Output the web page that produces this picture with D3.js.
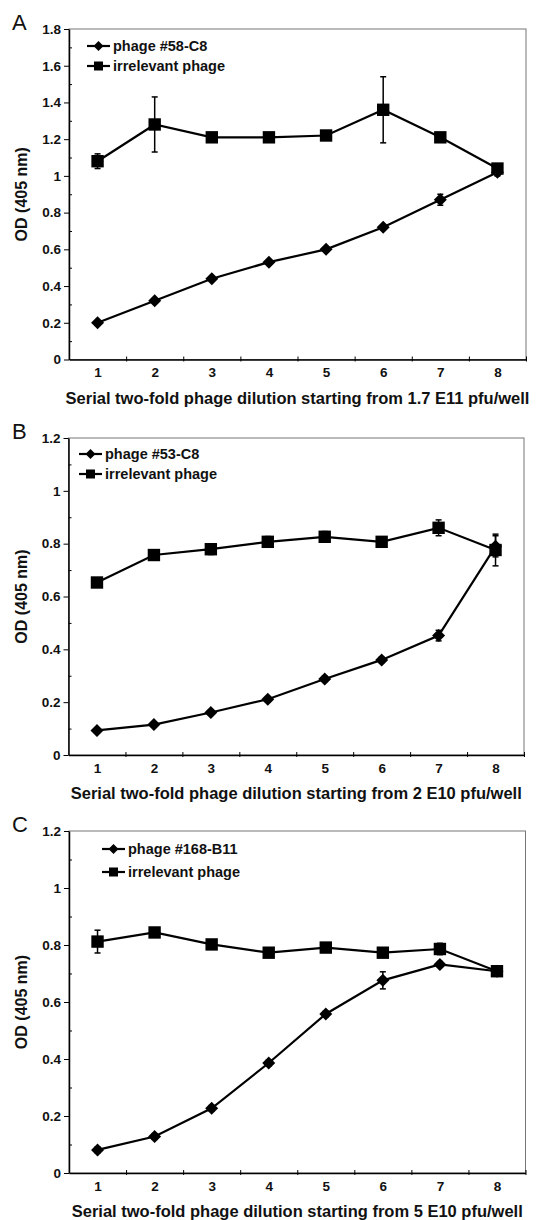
<!DOCTYPE html>
<html>
<head>
<meta charset="utf-8">
<script src="https://cdn.jsdelivr.net/npm/d3@7"></script>
<style>
  body { margin: 0; background: #fff; }
  text { font-family: "Liberation Sans", Arial, sans-serif; }
</style>
</head>
<body>
<script>
// Phage ELISA titration, three panels (A, B, C)

const svgWidth = 539;
const svgHeight = 1220;

// x categories: serial two-fold dilution steps
const dilutions = [1, 2, 3, 4, 5, 6, 7, 8];

// Panel A
const phageA = [0.20, 0.32, 0.44, 0.53, 0.60, 0.72, 0.87, 1.02];
const phageErrA = [0.01, 0.01, 0.01, 0.01, 0.01, 0.01, 0.03, 0.02];
const irrelA = [1.08, 1.28, 1.21, 1.21, 1.22, 1.36, 1.21, 1.04];
const irrelErrA = [0.04, 0.15, 0.01, 0.01, 0.01, 0.18, 0.01, 0.02];

// Panel B
const phageB = [0.093, 0.115, 0.161, 0.211, 0.288, 0.36, 0.452, 0.79];
const phageErrB = [0.01, 0.01, 0.01, 0.01, 0.01, 0.01, 0.02, 0.04];
const irrelB = [0.653, 0.757, 0.779, 0.807, 0.826, 0.807, 0.86, 0.776];
const irrelErrB = [0.01, 0.01, 0.02, 0.02, 0.02, 0.01, 0.03, 0.06];

// Panel C
const phageC = [0.081, 0.128, 0.227, 0.386, 0.558, 0.676, 0.732, 0.708];
const phageErrC = [0.01, 0.01, 0.01, 0.01, 0.01, 0.03, 0.01, 0.01];
const irrelC = [0.812, 0.844, 0.802, 0.773, 0.791, 0.773, 0.786, 0.708];
const irrelErrC = [0.04, 0.01, 0.01, 0.01, 0.01, 0.01, 0.02, 0.01];

// labels
const panelLetters = ["A", "B", "C"];
const phageNames = ["phage #58-C8", "phage #53-C8", "phage #168-B11"];
const irrelName = "irrelevant phage";
const yTitle = "OD (405 nm)";
const xTitles = [
    "Serial two-fold phage dilution starting from 1.7 E11 pfu/well",
    "Serial two-fold phage dilution starting from 2 E10 pfu/well",
    "Serial two-fold phage dilution starting from 5 E10 pfu/well"
];
const yMaxes = [1.8, 1.2, 1.2];

// layout for each panel (pixels)
const layouts = [
    { left: 69, right: 526, top: 29, bottom: 359.5, legendX: 87, legendY: 46, legendGap: 20 },
    { left: 68.5, right: 524, top: 438, bottom: 755, legendX: 79, legendY: 454, legendGap: 20 },
    { left: 69, right: 525.5, top: 831, bottom: 1173, legendX: 102, legendY: 849, legendGap: 23 }
];

const panels = [
    { phage: phageA, phageErr: phageErrA, irrel: irrelA, irrelErr: irrelErrA },
    { phage: phageB, phageErr: phageErrB, irrel: irrelB, irrelErr: irrelErrB },
    { phage: phageC, phageErr: phageErrC, irrel: irrelC, irrelErr: irrelErrC }
];

let svg = d3.select("body")
    .append("svg")
    .attr("width", svgWidth)
    .attr("height", svgHeight);

const diamond = s => `M0,${-s}L${s},0L0,${s}L${-s},0Z`;

function drawMarker(g, type, x, y, s) {
    if (type === "diamond") {
        g.append("path")
            .attr("d", diamond(s))
            .attr("transform", `translate(${x},${y})`)
            .attr("fill", "#000");
    } else {
        g.append("rect")
            .attr("x", x - s)
            .attr("y", y - s)
            .attr("width", 2 * s)
            .attr("height", 2 * s)
            .attr("fill", "#000");
    }
}

panels.forEach((p, i) => {
    const L = layouts[i];
    const g = svg.append("g");

    const xScale = d3.scaleLinear().domain([0.5, 8.5]).range([L.left, L.right]);
    const yScale = d3.scaleLinear().domain([0, yMaxes[i]]).range([L.bottom, L.top]);

    const majors = d3.range(0, yMaxes[i] + 0.001, 0.2).map(v => +v.toFixed(1));
    const minors = d3.range(0.1, yMaxes[i], 0.2).map(v => +v.toFixed(1));

    // plot frame (top and right in grey)
    g.append("rect")
        .attr("x", L.left)
        .attr("y", L.top)
        .attr("width", L.right - L.left)
        .attr("height", L.bottom - L.top)
        .attr("fill", "none")
        .attr("stroke", "#777")
        .attr("stroke-width", 1);

    // y axis
    const yAxis = g.append("g")
        .attr("transform", `translate(${L.left},0)`)
        .call(d3.axisLeft(yScale).tickValues(majors).tickSize(5).tickSizeOuter(0)
            .tickPadding(3).tickFormat(d => String(d)));
    yAxis.select(".domain").attr("stroke-width", 1.5);
    yAxis.selectAll("text")
        .attr("font-size", "13.5px")
        .attr("font-weight", "bold")
        .attr("fill", "#111");

    g.append("g")
        .attr("transform", `translate(${L.left},0)`)
        .call(d3.axisLeft(yScale).tickValues(minors).tickSize(-3).tickFormat(""))
        .select(".domain").remove();

    // x axis labels
    const xAxis = g.append("g")
        .attr("transform", `translate(0,${L.bottom})`)
        .call(d3.axisBottom(xScale).tickValues(dilutions).tickSize(0).tickSizeOuter(0).tickPadding(8));
    xAxis.select(".domain").attr("stroke-width", 1.5);
    xAxis.selectAll("text")
        .attr("font-size", "13.5px")
        .attr("font-weight", "bold")
        .attr("fill", "#111");

    // x ticks on category boundaries
    g.append("g")
        .attr("transform", `translate(0,${L.bottom + 2})`)
        .call(d3.axisBottom(xScale).tickValues(d3.range(1.5, 8.6, 1)).tickSize(-5).tickFormat(""))
        .select(".domain").remove();

    // axis titles
    g.append("text")
        .attr("x", (L.left + L.right) / 2)
        .attr("y", L.bottom + 44)
        .attr("text-anchor", "middle")
        .attr("font-size", "16.5px")
        .attr("font-weight", "bold")
        .attr("fill", "#111")
        .text(xTitles[i]);

    g.append("text")
        .attr("transform", `translate(27,${(L.top + L.bottom) / 2}) rotate(-90)`)
        .attr("text-anchor", "middle")
        .attr("font-size", "16px")
        .attr("font-weight", "bold")
        .attr("fill", "#111")
        .text(yTitle);

    // panel letter
    g.append("text")
        .attr("x", 12)
        .attr("y", L.top + 1)
        .attr("font-size", "22px")
        .attr("fill", "#111")
        .text(panelLetters[i]);

    // lines
    const line = d3.line()
        .x((d, j) => xScale(dilutions[j]))
        .y(d => yScale(d));

    [["irrel", "irrelErr", "square"], ["phage", "phageErr", "diamond"]].forEach(([key, errKey, type]) => {
        const vals = p[key];
        const errs = p[errKey];

        g.append("path")
            .datum(vals)
            .attr("d", line)
            .attr("fill", "none")
            .attr("stroke", "#000")
            .attr("stroke-width", 2.2);

        // error bars
        vals.forEach((v, j) => {
            const cx = xScale(dilutions[j]);
            const y1 = yScale(v + errs[j]);
            const y2 = yScale(v - errs[j]);
            g.append("line")
                .attr("x1", cx).attr("x2", cx)
                .attr("y1", y1).attr("y2", y2)
                .attr("stroke", "#000").attr("stroke-width", 1.5);
            [y1, y2].forEach(yy => {
                g.append("line")
                    .attr("x1", cx - 3).attr("x2", cx + 3)
                    .attr("y1", yy).attr("y2", yy)
                    .attr("stroke", "#000").attr("stroke-width", 1.5);
            });
        });

        vals.forEach((v, j) => {
            drawMarker(g, type, xScale(dilutions[j]), yScale(v), type === "diamond" ? 6.5 : 6.2);
        });
    });

    // legend
    const legendItems = [[phageNames[i], "diamond"], [irrelName, "square"]];
    legendItems.forEach(([name, type], k) => {
        const ly = L.legendY + k * L.legendGap;
        g.append("line")
            .attr("x1", L.legendX).attr("x2", L.legendX + 23)
            .attr("y1", ly).attr("y2", ly)
            .attr("stroke", "#000").attr("stroke-width", 2.2);
        drawMarker(g, type, L.legendX + 11.5, ly, type === "diamond" ? 5 : 4.5);
        g.append("text")
            .attr("x", L.legendX + 26)
            .attr("y", ly)
            .attr("dy", "0.35em")
            .attr("font-size", "14.5px")
            .attr("font-weight", "bold")
            .attr("fill", "#111")
            .text(name);
    });
});
</script>
</body>
</html>
